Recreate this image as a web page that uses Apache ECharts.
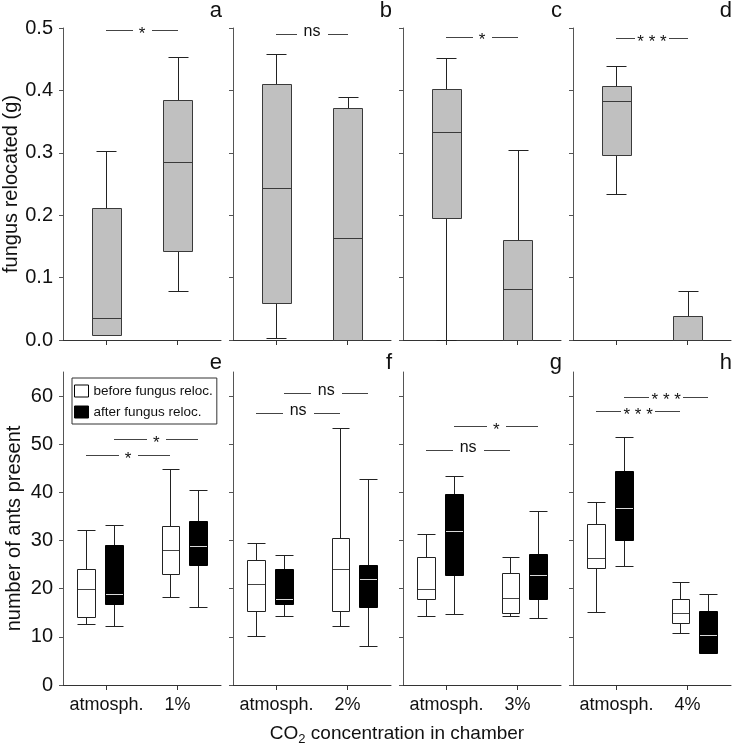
<!DOCTYPE html>
<html><head><meta charset="utf-8">
<script src="https://cdn.jsdelivr.net/npm/echarts@6/dist/echarts.min.js"></script>
<style>html,body{margin:0;padding:0;background:#fff}#c{width:734px;height:753px}</style>
</head><body><div id="c"></div>
<script>
// ---------------- data ----------------
const panelLetters = ['a','b','c','d','e','f','g','h'];
const bottomCategories = [['atmosph.','1%'],['atmosph.','2%'],['atmosph.','3%'],['atmosph.','4%']];
const topTickValues = [0, 0.1, 0.2, 0.3, 0.4, 0.5];
const bottomTickValues = [0, 10, 20, 30, 40, 50, 60];
const yTitleTop = 'fungus relocated (g)';
const yTitleBottom = 'number of ants present';
const legendNames = ['before fungus reloc.', 'after fungus reloc.'];

// fungus relocated (g): [min, q1, median, q3, max] per category (atmosph., x% CO2)
const fungusA = [[0.008,0.008,0.036,0.212,0.303],[0.078,0.143,0.286,0.385,0.453]];
const fungusB = [[0.003,0.059,0.243,0.411,0.459],[0,0,0.163,0.372,0.389]];
const fungusC = [[0,0.196,0.333,0.403,0.452],[0,0,0.081,0.161,0.305]];
const fungusD = [[0.234,0.297,0.383,0.407,0.439],[0,0,0,0.038,0.079]];

// number of ants present: [min, q1, median, q3, max]
const antsBeforeE = [[12.7,14.1,20.0,24.1,32.1],[18.3,23.1,28.0,33.1,44.9]];
const antsAfterE  = [[12.2,16.9,19.0,29.0,33.3],[16.2,24.9,28.8,34.0,40.5]];
const antsBeforeF = [[10.2,15.4,21.0,25.9,29.4],[12.2,15.4,24.0,30.5,53.4]];
const antsAfterF  = [[14.4,16.9,17.9,24.0,26.9],[8.2,16.3,22.0,24.9,42.8]];
const antsBeforeG = [[14.3,17.9,20.0,26.5,31.3],[14.3,15.0,18.0,23.2,26.5]];
const antsAfterG  = [[14.7,22.9,31.9,39.6,43.5],[13.9,17.9,22.9,27.2,36.2]];
const antsBeforeH = [[15.2,24.3,26.3,33.5,38.1],[10.7,12.8,14.9,17.9,21.4]];
const antsAfterH  = [[24.7,30.1,36.7,44.4,51.6],[6.7,6.7,10.4,15.3,19.0]];

// significance labels and their heights (data units)
const sigTopLabels = ['*','ns','*','***'];
const sigTopY = [0.497, 0.491, 0.486, 0.484];
const sigBeforeLabels = ['*','ns','ns','***'];
const sigBeforeY = [47.7, 56.5, 48.8, 56.8];
const sigAfterLabels = ['*','ns','*','***'];
const sigAfterY = [51.1, 60.7, 53.8, 59.9];

// ---------------- layout ----------------
const FONT = '"Liberation Sans", Arial, Helvetica, sans-serif';
const colLeft = [63, 233, 403, 573];
const colW = 158;
const topRow = {top: 28, height: 312};
const botRow = {top: 372, height: 313};
const XMIN = -0.611, XMAX = 1.611;
const OFFSETS = {center: [0, 0], before: [-0.29, -0.10], after: [0.11, 0.29]};
const GAP = {'*': 19, 'ns': 31, '***': 34};
const TEXT_DY = {'*': 4, 'ns': -2, '***': 4};

const topFungus = [fungusA, fungusB, fungusC, fungusD];
const antsBefore = [antsBeforeE, antsBeforeF, antsBeforeG, antsBeforeH];
const antsAfter = [antsAfterE, antsAfterF, antsAfterG, antsAfterH];

function crisp(v){ return Math.round(v) + 0.5; }

function boxRender(kind, st) {
  return function(params, api) {
    const cat = api.value(0);
    const xv = cat + OFFSETS[kind][cat];
    const mn = api.value(1), q1 = api.value(2), md = api.value(3), q3 = api.value(4), mx = api.value(5);
    const cx = api.coord([xv, 0])[0];
    const w = api.size([st.boxW, 0])[0];
    const cw = api.size([st.capW, 0])[0];
    const Y = v => api.coord([xv, v])[1];
    const x0 = Math.round(cx - w / 2) + 0.5, x1 = Math.round(cx + w / 2) + 0.5;
    const c0 = Math.round(cx - cw / 2) + 0.5, c1 = Math.round(cx + cw / 2) + 0.5;
    const xm = crisp(cx);
    const ln = (a, b, c, d, color) => ({type: 'line', shape: {x1: a, y1: b, x2: c, y2: d}, style: {stroke: color, lineWidth: 1}});
    const ch = [];
    if (mx > q3) { ch.push(ln(xm, crisp(Y(mx)), xm, crisp(Y(q3)), st.whisker)); ch.push(ln(c0, crisp(Y(mx)), c1, crisp(Y(mx)), st.whisker)); }
    if (mn < q1) { ch.push(ln(xm, crisp(Y(q1)), xm, crisp(Y(mn)), st.whisker)); ch.push(ln(c0, crisp(Y(mn)), c1, crisp(Y(mn)), st.whisker)); }
    const yt = crisp(Y(q3)), yb = crisp(Y(q1));
    ch.push({type: 'rect', shape: {x: x0, y: yt, width: x1 - x0, height: yb - yt}, style: {fill: st.fill, stroke: st.stroke, lineWidth: 1}});
    ch.push(ln(x0 + 0.5, crisp(Y(md)), x1 - 0.5, crisp(Y(md)), st.median));
    return {type: 'group', children: ch};
  };
}

function bracketRender(labels) {
  return function(params, api) {
    const kind = ['center', 'before', 'after'][api.value(3)];
    const y = api.value(2);
    const p1 = api.coord([api.value(0) + OFFSETS[kind][0], y]);
    const p2 = api.coord([api.value(1) + OFFSETS[kind][1], y]);
    const label = labels[params.dataIndex];
    const gap = GAP[label];
    const mid = (p1[0] + p2[0]) / 2;
    const yy = crisp(p1[1]);
    const color = '#444';
    return {type: 'group', children: [
      {type: 'line', shape: {x1: Math.round(p1[0]), y1: yy, x2: Math.round(mid - gap / 2), y2: yy}, style: {stroke: color, lineWidth: 1}},
      {type: 'line', shape: {x1: Math.round(mid + gap / 2), y1: yy, x2: Math.round(p2[0]), y2: yy}, style: {stroke: color, lineWidth: 1}},
      {type: 'text', x: mid, y: p1[1] + TEXT_DY[label], style: {text: label === '***' ? label.split('').join(' ') : label,
        x: 0, y: 0, align: 'center', verticalAlign: 'middle', fill: '#111', font: (label === 'ns' ? '16px ' : '17px ') + FONT}}
    ]};
  };
}

const grids = [], xAxes = [], yAxes = [], series = [], titles = [];
for (let r = 0; r < 2; r++) {
  for (let c = 0; c < 4; c++) {
    const gi = r * 4 + c;
    const row = r === 0 ? topRow : botRow;
    grids.push({left: colLeft[c], top: row.top, width: colW, height: row.height});
    xAxes.push({
      type: 'value', gridIndex: gi, min: XMIN, max: XMAX,
      axisLine: {show: true, onZero: false, lineStyle: {color: '#333', width: 1}},
      axisTick: {show: true, customValues: [0, 1], length: 5, lineStyle: {color: '#333'}},
      axisLabel: {show: r === 1, customValues: [0, 1], formatter: v => (r === 1 ? bottomCategories[c][Math.round(v)] : ''),
        margin: 11, fontSize: 18, color: '#111', fontFamily: FONT},
      splitLine: {show: false}
    });
    const ticks = r === 0 ? topTickValues : bottomTickValues;
    yAxes.push({
      type: 'value', gridIndex: gi, min: 0, max: r === 0 ? 0.5 : 65,
      axisLine: {show: true, onZero: false, lineStyle: {color: '#555', width: 1}},
      axisTick: {show: true, customValues: ticks, length: 4, lineStyle: {color: '#555'}},
      axisLabel: {show: c === 0, customValues: ticks, formatter: v => (r === 0 ? v.toFixed(1) : String(Math.round(v))),
        margin: 10, fontSize: 20, color: '#111', fontFamily: FONT},
      splitLine: {show: false},
      name: c === 0 ? (r === 0 ? yTitleTop : yTitleBottom) : '',
      nameLocation: 'middle', nameGap: 39,
      nameTextStyle: {fontSize: 20, color: '#111', fontFamily: FONT}
    });
    titles.push({text: panelLetters[gi], right: 734 - (colLeft[c] + colW + 1), top: r === 0 ? 0 : 352, padding: 0,
      textStyle: {fontSize: 22, fontWeight: 'normal', color: '#111', fontFamily: FONT}});
    if (r === 0) {
      series.push({type: 'custom', xAxisIndex: gi, yAxisIndex: gi, clip: false, silent: true,
        renderItem: boxRender('center', {boxW: 0.4, capW: 0.28, fill: '#c0c0c0', stroke: '#3a3a3a', median: '#3a3a3a', whisker: '#222'}),
        encode: {x: 0, y: [1, 2, 3, 4, 5]},
        data: topFungus[c].map((d, i) => [i].concat(d))});
      series.push({type: 'custom', xAxisIndex: gi, yAxisIndex: gi, clip: false, silent: true,
        renderItem: bracketRender([sigTopLabels[c]]), encode: {x: [0, 1], y: 2},
        data: [[0, 1, sigTopY[c], 0]]});
    } else {
      series.push({type: 'custom', name: legendNames[0], xAxisIndex: gi, yAxisIndex: gi, clip: false, silent: true,
        itemStyle: {color: '#fff', borderColor: '#000'},
        renderItem: boxRender('before', {boxW: 0.25, capW: 0.25, fill: '#fff', stroke: '#222', median: '#444', whisker: '#222'}),
        encode: {x: 0, y: [1, 2, 3, 4, 5]},
        data: antsBefore[c].map((d, i) => [i].concat(d))});
      series.push({type: 'custom', name: legendNames[1], xAxisIndex: gi, yAxisIndex: gi, clip: false, silent: true,
        itemStyle: {color: '#000', borderColor: '#000'},
        renderItem: boxRender('after', {boxW: 0.25, capW: 0.25, fill: '#000', stroke: '#000', median: '#d8d8d8', whisker: '#222'}),
        encode: {x: 0, y: [1, 2, 3, 4, 5]},
        data: antsAfter[c].map((d, i) => [i].concat(d))});
      series.push({type: 'custom', xAxisIndex: gi, yAxisIndex: gi, clip: false, silent: true,
        renderItem: bracketRender([sigBeforeLabels[c], sigAfterLabels[c]]), encode: {x: [0, 1], y: 2},
        data: [[0, 1, sigBeforeY[c], 1], [0, 1, sigAfterY[c], 2]]});
    }
  }
}
titles.push({text: '{n|CO}{s|2}{n| concentration in chamber}', left: 397, textAlign: 'center', top: 722, padding: 0,
  textStyle: {fontWeight: 'normal', rich: {n: {fontSize: 19, fontWeight: 'normal', color: '#111', fontFamily: FONT, lineHeight: 24},
                     s: {fontSize: 13, fontWeight: 'normal', color: '#111', fontFamily: FONT, lineHeight: 8, verticalAlign: 'bottom'}}}});

const chart = echarts.init(document.getElementById('c'), null, {renderer: 'canvas'});
chart.setOption({
  animation: false,
  backgroundColor: '#fff',
  title: titles,
  grid: grids, xAxis: xAxes, yAxis: yAxes, series: series,
  legend: {orient: 'vertical', left: 72, top: 378, padding: [6, 4, 5, 2], itemGap: 7, itemWidth: 14, itemHeight: 12,
    borderColor: '#333', borderWidth: 1, selectedMode: false,
    textStyle: {fontSize: 13.5, color: '#111', fontFamily: FONT},
    data: [{name: legendNames[0], icon: 'rect', itemStyle: {color: '#fff', borderColor: '#000', borderWidth: 1}},
           {name: legendNames[1], icon: 'rect', itemStyle: {color: '#000', borderColor: '#000', borderWidth: 1}}]}
});
</script></body></html>
